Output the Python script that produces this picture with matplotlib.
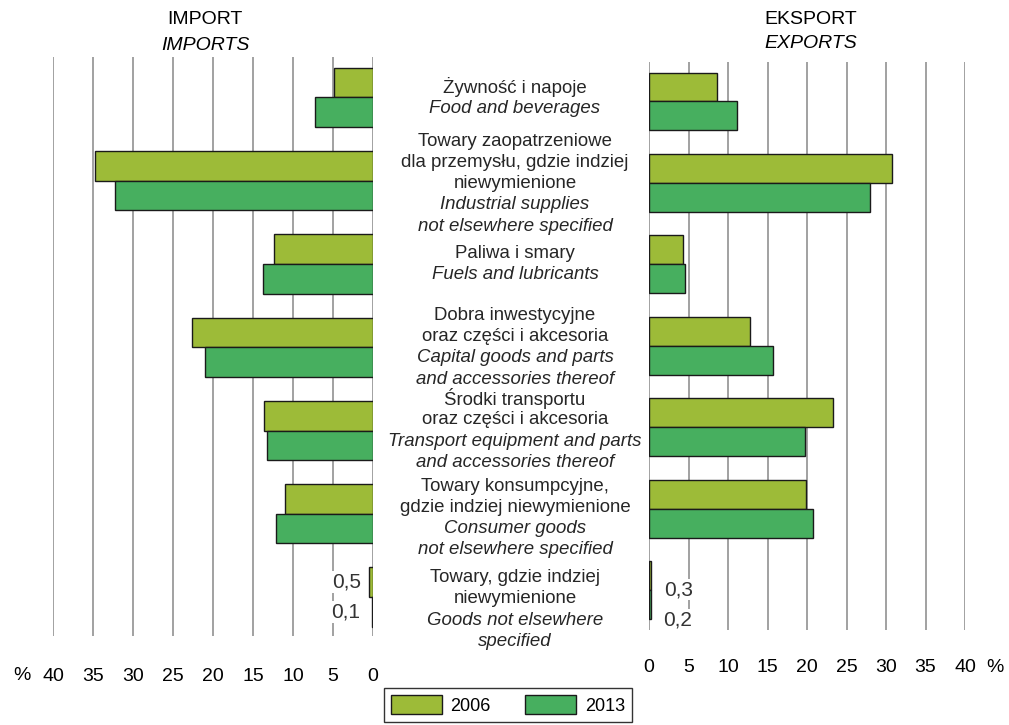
import numpy as np
import matplotlib
matplotlib.use('Agg')
import matplotlib.pyplot as plt
import matplotlib.transforms as mtransforms
from matplotlib.patches import Patch

plt.rcParams['font.family'] = ['Liberation Sans', 'DejaVu Sans']

# shares in %
imp_2006 = [4.9, 34.8, 12.4, 22.6, 13.6, 11.0, 0.5]
imp_2013 = [7.2, 32.3, 13.8, 21.0, 13.2, 12.1, 0.1]
exp_2006 = [8.6, 30.8, 4.3, 12.8, 23.3, 19.9, 0.3]
exp_2013 = [11.1, 28.0, 4.5, 15.7, 19.7, 20.8, 0.2]

labels_pl = [
    ["Żywność i napoje"],
    ["Towary zaopatrzeniowe", "dla przemysłu, gdzie indziej", "niewymienione"],
    ["Paliwa i smary"],
    ["Dobra inwestycyjne", "oraz części i akcesoria"],
    ["Środki transportu", "oraz części i akcesoria"],
    ["Towary konsumpcyjne,", "gdzie indziej niewymienione"],
    ["Towary, gdzie indziej", "niewymienione"],
]
labels_en = [
    ["Food and beverages"],
    ["Industrial supplies", "not elsewhere specified"],
    ["Fuels and lubricants"],
    ["Capital goods and parts", "and accessories thereof"],
    ["Transport equipment and parts", "and accessories thereof"],
    ["Consumer goods", "not elsewhere specified"],
    ["Goods not elsewhere", "specified"],
]
years = ["2006", "2013"]
ticks = list(range(0, 45, 5))

c06 = '#9dbb38'
c13 = '#47af5f'
edge = '#1a1a1a'
W, H = 1009, 725

fig = plt.figure(figsize=(W / 100, H / 100), dpi=100)
axL = fig.add_axes([53 / W, (H - 636) / H, 320 / W, (636 - 57) / H])
axR = fig.add_axes([649 / W, (H - 630) / H, 316 / W, (630 - 62) / H])

y = np.arange(len(imp_2006))
h = 0.355
for ax, v06, v13 in [(axL, imp_2006, imp_2013), (axR, exp_2006, exp_2013)]:
    ax.barh(y - h / 2, v06, height=h, color=c06, edgecolor=edge, linewidth=1)
    ax.barh(y + h / 2, v13, height=h, color=c13, edgecolor=edge, linewidth=1)
    ax.set_xticks(ticks)
    ax.set_xticklabels([str(t) for t in ticks], fontsize=14)
    ax.set_yticks([])
    ax.grid(axis='x', color='#9a9a9a', linewidth=1.3)
    ax.set_axisbelow(True)
    for s in ax.spines.values():
        s.set_visible(False)

axL.set_xlim(40, 0)
axL.set_ylim(6.468, -0.486)
axR.set_xlim(0, 40)
axR.set_ylim(6.49, -0.485)
axL.tick_params(axis='x', length=0, pad=23)
axR.tick_params(axis='x', length=0, pad=21)

# small values labels
lbl = lambda v: str(v).replace('.', ',')
axL.annotate(lbl(imp_2006[6]), (imp_2006[6], 6 - h / 2), xytext=(-6, 0),
             textcoords='offset points', ha='right', va='center', fontsize=15,
             color='#333333', bbox=dict(fc='white', ec='none', pad=1))
axL.annotate(lbl(imp_2013[6]), (imp_2013[6], 6 + h / 2), xytext=(-9, 0),
             textcoords='offset points', ha='right', va='center', fontsize=15,
             color='#333333', bbox=dict(fc='white', ec='none', pad=1))
axR.annotate(lbl(exp_2006[6]), (exp_2006[6], 6 - h / 2), xytext=(9, -10),
             textcoords='offset points', ha='left', va='center', fontsize=15,
             color='#333333', bbox=dict(fc='white', ec='none', pad=1))
axR.annotate(lbl(exp_2013[6]), (exp_2013[6], 6 + h / 2), xytext=(9, -11),
             textcoords='offset points', ha='left', va='center', fontsize=15,
             color='#333333', bbox=dict(fc='white', ec='none', pad=1))

# % signs
fig.text(22 / W, 1 - 675 / H, '%', ha='center', va='center', fontsize=14)
fig.text(995 / W, 1 - 667 / H, '%', ha='center', va='center', fontsize=14)

# headers
fig.text(205 / W, 1 - 20 / H, 'IMPORT', ha='center', va='center', fontsize=14)
fig.text(205 / W, 1 - 45 / H, 'IMPORTS', ha='center', va='center', fontsize=14, style='italic')
fig.text(811 / W, 1 - 20 / H, 'EKSPORT', ha='center', va='center', fontsize=14)
fig.text(811 / W, 1 - 43 / H, 'EXPORTS', ha='center', va='center', fontsize=14, style='italic')

# category labels in the middle
base = mtransforms.blended_transform_factory(fig.transFigure, axL.transData)
spacing = 15.3
shift = [0, -2, 0, 0, 0, -3, -9]
for i, (pl, en) in enumerate(zip(labels_pl, labels_en)):
    lines = [(t, 'normal') for t in pl] + [(t, 'italic') for t in en]
    n = len(lines)
    for k, (t, st) in enumerate(lines):
        dy = ((n - 1) / 2 - k) * spacing + shift[i]
        tr = mtransforms.offset_copy(base, fig=fig, x=0, y=dy, units='points')
        fig.text(515 / W, i, t, transform=tr, ha='center', va='center',
                 fontsize=13.4, style=st, color='#262626')

handles = [Patch(facecolor=c06, edgecolor=edge), Patch(facecolor=c13, edgecolor=edge)]
fig.legend(handles, years, loc='upper center', bbox_to_anchor=(508 / W, 1 - 688 / H),
           ncol=2, fontsize=13, frameon=True, fancybox=False, edgecolor='black',
           handlelength=2.8, handleheight=1.2, handletextpad=0.5, columnspacing=1.9,
           borderpad=0.4, borderaxespad=0)

fig.savefig('out.png', dpi=100)
